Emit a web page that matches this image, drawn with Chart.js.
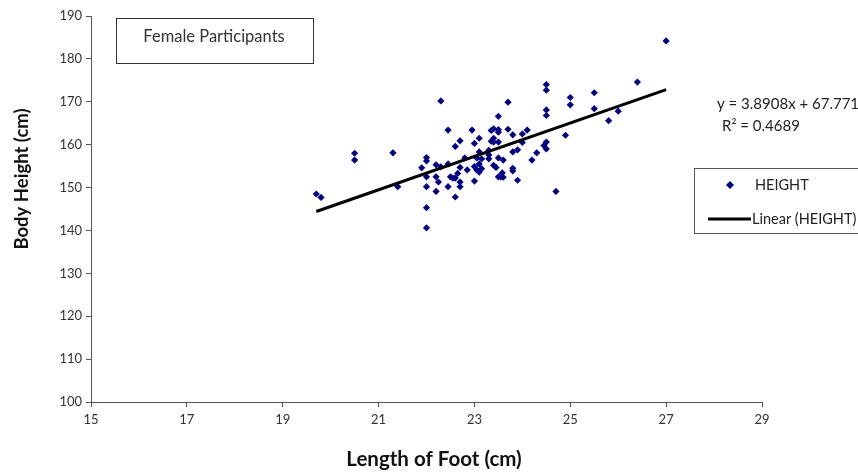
<!DOCTYPE html>
<html><head><meta charset="utf-8">
<script src="https://cdn.jsdelivr.net/npm/chart.js@4/dist/chart.umd.min.js"></script>
<style>html,body{margin:0;padding:0;background:#fff;overflow:hidden}#wrap{width:858px;height:473px;position:relative}</style>
</head><body><div id="wrap"><canvas id="c" width="858" height="473"></canvas></div>
<script>
// ---- data ----
const footLength = [19.7,19.8,20.5,20.5,21.3,21.4,22.0,22.0,21.9,22.0,22.0,22.0,22.0,22.2,22.2,22.25,22.2,22.3,22.3,22.45,22.45,22.5,22.45,22.55,22.6,22.6,22.6,22.7,22.65,22.7,22.7,22.7,22.8,22.85,22.95,23.0,23.0,23.05,23.0,23.05,23.1,23.1,23.1,23.15,23.1,23.15,23.3,23.3,23.3,23.35,23.35,23.4,23.4,23.4,23.4,23.45,23.5,23.5,23.5,23.5,23.5,23.5,23.55,23.6,23.58,23.6,23.7,23.7,23.8,23.8,23.8,23.8,23.9,23.9,24.0,24.0,24.1,24.2,24.3,24.5,24.5,24.5,24.5,24.5,24.45,24.5,24.7,24.9,25.0,25.0,25.5,25.5,25.8,26.0,26.4,27.0];
const bodyHeight = [148.5,147.7,158.0,156.4,158.1,150.2,157.0,156.2,154.6,152.5,150.2,145.3,140.6,155.3,152.5,151.3,149.1,170.2,154.8,163.4,155.5,152.5,150.2,152.2,152.2,147.8,159.6,160.9,153.3,151.3,150.2,154.7,156.9,154.1,163.4,160.3,151.5,156.9,154.9,154.1,161.5,153.6,158.3,156.7,155.5,154.4,158.7,157.6,156.7,163.3,160.8,155.2,161.5,163.7,160.6,154.7,166.6,163.5,162.9,160.6,156.9,152.5,152.5,156.4,153.4,152.4,169.9,163.6,162.3,158.3,154.5,153.9,158.8,151.7,162.5,160.5,163.4,156.4,158.1,174.0,172.7,168.1,166.8,160.6,159.8,159.0,149.1,162.2,171.0,169.3,172.1,168.4,165.6,167.8,174.6,184.2];
const xTickValues = [15,17,19,21,23,25,27,29];
const yTickValues = [100,110,120,130,140,150,160,170,180,190];
const trendSlope = 3.8908;
const trendIntercept = 67.771;
const equationText = 'y = 3.8908x + 67.771';
const r2Text = 'R² = 0.4689';
const titleText = 'Female Participants';
const seriesName = 'HEIGHT';
const trendName = 'Linear (HEIGHT)';
const xTitle = 'Length of Foot (cm)';
const yTitle = 'Body Height (cm)';

const points = footLength.map((x,i)=>({x:x,y:bodyHeight[i]}));
const xMin = Math.min(...footLength), xMax = Math.max(...footLength);
const trendPoints = [xMin,xMax].map(x=>({x:x,y:trendSlope*x+trendIntercept}));

const FONT = 'Lato, "Open Sans", "Liberation Sans", sans-serif';
const NAVY = '#00008b';

const extras = {
  id:'extras',
  afterDraw(chart){
    const ctx = chart.ctx;
    ctx.save();
    // axis titles
    ctx.fillStyle='#111'; ctx.textAlign='center'; ctx.textBaseline='middle';
    ctx.font='bold 20.5px '+FONT;
    ctx.fillText(xTitle, 434, 459);
    ctx.save();
    ctx.translate(22, 179); ctx.rotate(-Math.PI/2);
    ctx.font='bold 18.5px '+FONT;
    ctx.fillText(yTitle, 0, 0);
    ctx.restore();
    // title box
    ctx.strokeStyle = '#333'; ctx.lineWidth = 1;
    ctx.strokeRect(116.5, 18.5, 197, 45);
    ctx.fillStyle = '#333'; ctx.font = '16.5px '+FONT;
    ctx.textAlign='center'; ctx.textBaseline='middle';
    ctx.fillText(titleText, 214, 37);
    // equation
    ctx.font = '15px '+FONT; ctx.fillStyle='#222';
    ctx.textAlign='left';
    ctx.fillText(equationText, 717, 104);
    ctx.textAlign='center';
    ctx.fillText(r2Text, 761, 126);
    // legend box
    ctx.strokeStyle='#555';
    ctx.strokeRect(694.5, 168.5, 200, 65);
    // marker
    ctx.fillStyle = NAVY;
    ctx.beginPath(); ctx.moveTo(730,181); ctx.lineTo(734,185); ctx.lineTo(730,189); ctx.lineTo(726,185); ctx.closePath(); ctx.fill();
    ctx.fillStyle='#222'; ctx.font='14.5px '+FONT; ctx.textAlign='left';
    ctx.fillText(seriesName, 755, 185);
    ctx.strokeStyle='#000'; ctx.lineWidth=3;
    ctx.beginPath(); ctx.moveTo(708,219); ctx.lineTo(751,219); ctx.stroke();
    ctx.fillText(trendName, 752, 219);
    ctx.restore();
  }
};

new Chart(document.getElementById('c'), {
  type:'scatter',
  data:{datasets:[
    {label:seriesName, data:points, backgroundColor:NAVY, borderColor:NAVY, pointStyle:'rectRot', pointRadius:3.6, pointHoverRadius:3.6, borderWidth:0, order:2},
    {type:'line', label:trendName, data:trendPoints, borderColor:'#000', borderWidth:3, pointRadius:0, fill:false, showLine:true, order:1}
  ]},
  options:{
    responsive:false, animation:false, devicePixelRatio:1,
    layout:{padding:{left:6, top:16, right:96, bottom:2}},
    plugins:{legend:{display:false}, tooltip:{enabled:false}},
    scales:{
      x:{type:'linear', min:15, max:29,
        afterBuildTicks(s){ s.ticks = xTickValues.map(v=>({value:v})); },
        afterFit(s){ s.height = 473-402-2; },
        grid:{display:true, drawOnChartArea:false, drawTicks:true, tickLength:5, color:'#555'},
        border:{display:true, color:'#555', width:1},
        ticks:{color:'#333', font:{family:FONT, size:13}, padding:5, maxRotation:0},
        title:{display:false, text:xTitle}
      },
      y:{type:'linear', min:100, max:190,
        afterBuildTicks(s){ s.ticks = yTickValues.map(v=>({value:v})); },
        afterFit(s){ s.width = 91-6; },
        grid:{display:true, drawOnChartArea:false, drawTicks:true, tickLength:5, color:'#555'},
        border:{display:true, color:'#555', width:1},
        ticks:{color:'#333', font:{family:FONT, size:13}, padding:4},
        title:{display:false, text:yTitle}
      }
    }
  },
  plugins:[extras]
});
</script></body></html>
